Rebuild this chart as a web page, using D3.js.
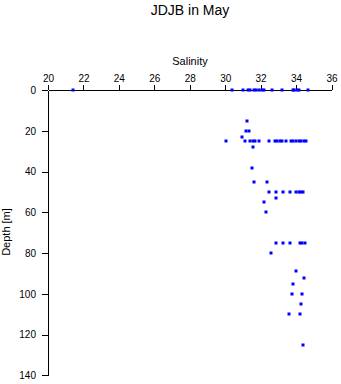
<!DOCTYPE html>
<html><head><meta charset="utf-8">
<script src="https://cdn.jsdelivr.net/npm/d3@7"></script>
<style>body{margin:0;background:#fff}svg{display:block}text{font-family:"Liberation Sans",Arial,sans-serif}</style>
</head><body><svg id="c" width="341" height="384"></svg>
<script>
const title = "JDJB in May";
const xLabel = "Salinity";
const yLabel = "Depth [m]";
const xTicks = [20,22,24,26,28,30,32,34,36];
const yTicks = [0,20,40,60,80,100,120,140];
// each row: [depth, salinity...]
const depths = [0,15,20,23,25,28,38,45,50,53,55,60,75,80,89,92,95,100,105,110,125];
const salinities = [
  [21.4,30.4,31.0,31.3,31.4,31.6,31.75,31.9,32.1,32.2,32.65,33.2,33.8,33.9,34.05,34.15,34.65],
  [31.25],
  [31.2,31.35],
  [30.95],
  [30.05,31.1,31.4,31.55,31.7,31.9,32.5,32.8,32.95,33.1,33.2,33.45,33.7,33.85,34.0,34.15,34.3,34.45,34.55],
  [31.55],
  [31.5],
  [31.65,32.35],
  [32.5,32.85,33.25,33.65,34.0,34.15,34.3,34.4],
  [32.85],
  [32.2],
  [32.3],
  [32.85,33.25,33.65,34.2,34.35,34.5],
  [32.6],
  [34.0],
  [34.45],
  [33.85],
  [33.75,34.35],
  [34.3],
  [33.6,34.2],
  [34.4]
];
const points = [];
depths.forEach((d,i)=>salinities[i].forEach(s=>points.push({d,s})));

const svg = d3.select("#c");
const x = d3.scaleLinear().domain([20,36]).range([48,331.5]);
const y = d3.scaleLinear().domain([0,140]).range([90.3,375.2]);

const gx = svg.append("g").attr("transform",`translate(0,${y(0)})`)
  .call(d3.axisTop(x).tickValues(xTicks).tickSize(5).tickSizeOuter(0).tickPadding(3));
const gy = svg.append("g").attr("transform",`translate(${x(20)},0)`)
  .call(d3.axisLeft(y).tickValues(yTicks).tickSize(6).tickSizeOuter(0).tickPadding(6));
[gx,gy].forEach(g=>{
  g.selectAll("text").attr("font-size",10).attr("font-family","Liberation Sans, Arial, sans-serif").attr("fill","#000");
  g.selectAll("line,path").attr("stroke","#000").attr("shape-rendering","crispEdges");
});

svg.append("g").selectAll("rect").data(points).join("rect")
  .attr("x",p=>Math.round(x(p.s))-1.5).attr("y",p=>Math.round(y(p.d))-1.5)
  .attr("width",3).attr("height",3).attr("fill","#0000ff");

svg.append("text").attr("x",190).attr("y",15).attr("text-anchor","middle")
  .attr("font-size",14).text(title);
svg.append("text").attr("x",190).attr("y",65).attr("text-anchor","middle")
  .attr("font-size",11).text(xLabel);
svg.append("text").attr("transform","translate(10,232) rotate(-90)").attr("text-anchor","middle")
  .attr("font-size",11).text(yLabel);
</script></body></html>
